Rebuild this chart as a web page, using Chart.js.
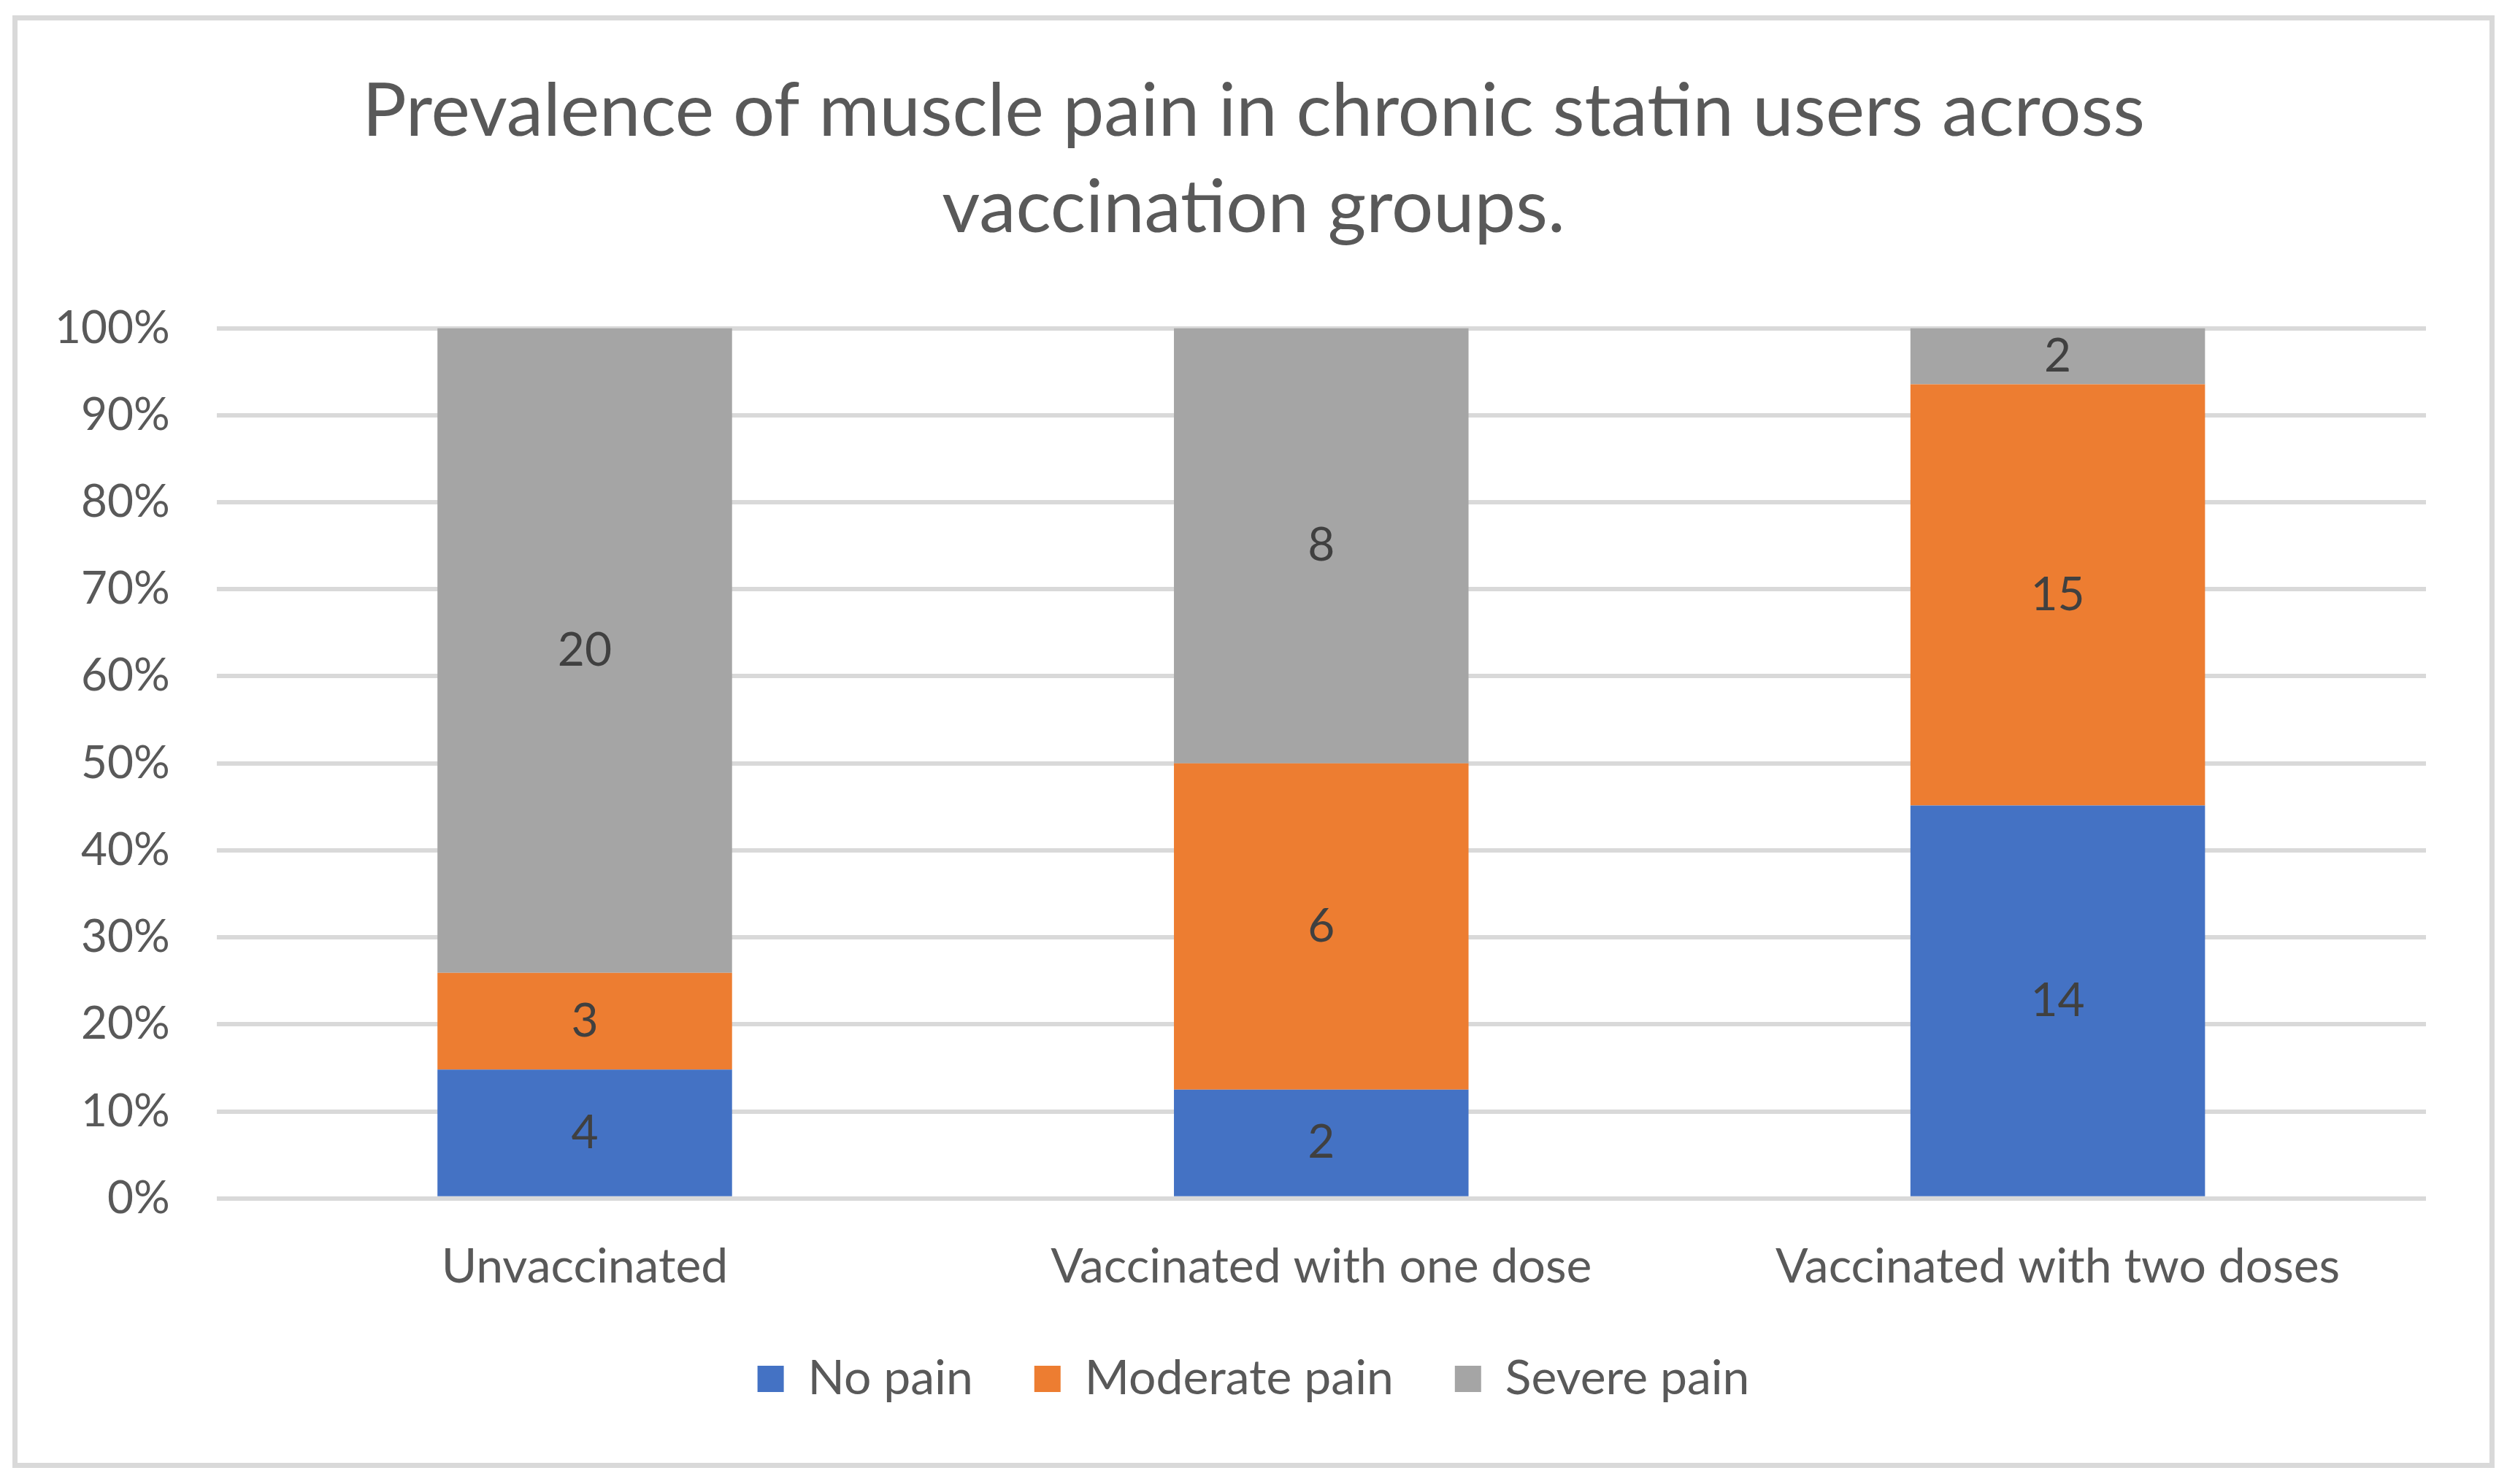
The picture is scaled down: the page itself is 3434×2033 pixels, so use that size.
<!DOCTYPE html>
<html>
<head>
<meta charset="utf-8">
<script src="https://cdn.jsdelivr.net/npm/chart.js@4.4.1/dist/chart.umd.min.js"></script>
<style>
  html, body { margin: 0; padding: 0; background: #fff; }
  #frame {
    position: absolute;
    left: 17px; top: 21px;
    width: 3386px; height: 1976px;
    border: 7px solid #d9d9d9;
    background: #fff;
  }
</style>
</head>
<body>
<div id="frame"><canvas id="pain_Chart"></canvas></div>
<script>
// counts
const groups = ['Unvaccinated', 'Vaccinated with one dose', 'Vaccinated with two doses'];
const noPain = [4, 2, 14];
const moderatePain = [3, 6, 15];
const severePain = [20, 8, 2];
const yTicks = ['0%', '10%', '20%', '30%', '40%', '50%', '60%', '70%', '80%', '90%', '100%'];

const totals = groups.map((g, i) => noPain[i] + moderatePain[i] + severePain[i]);
const pct = arr => arr.map((v, i) => v / totals[i] * 100);

const fontFam = 'Lato, "Open Sans", sans-serif';

// writes the count in the middle of each bar segment
const countLabels = {
    id: 'countLabels',
    afterDatasetsDraw(chart) {
        const c = chart.ctx;
        c.save();
        c.font = '64px ' + fontFam;
        c.fillStyle = '#404040';
        c.textAlign = 'center';
        c.textBaseline = 'middle';
        chart.data.datasets.forEach((ds, di) => {
            chart.getDatasetMeta(di).data.forEach((bar, i) => {
                const y = (bar.y + bar.base) / 2;
                c.fillText(String(ds.counts[i]), bar.x, y);
            });
        });
        c.restore();
    }
};

const ctx = document.getElementById('pain_Chart');

new Chart(ctx, {
    type: 'bar',
    data: {
        labels: groups,
        datasets: [
            { label: 'No pain', data: pct(noPain), counts: noPain, backgroundColor: 'rgb(68, 114, 196)' },
            { label: 'Moderate pain', data: pct(moderatePain), counts: moderatePain, backgroundColor: 'rgb(237, 125, 49)' },
            { label: 'Severe pain', data: pct(severePain), counts: severePain, backgroundColor: 'rgb(165, 165, 165)' }
        ]
    },
    options: {
        responsive: true,
        maintainAspectRatio: false,
        animation: false,
        datasets: {
            bar: { categoryPercentage: 0.4, barPercentage: 1.0 }
        },
        layout: { padding: { left: 0, right: 0, top: 0, bottom: 72 } },
        scales: {
            x: {
                stacked: true,
                grid: { display: false },
                border: { display: false },
                ticks: { color: '#595959', font: { family: fontFam, size: 66 }, padding: 46 },
                afterFit: (s) => { s.height -= 49; }
            },
            y: {
                stacked: true,
                min: 0,
                max: 100,
                border: { display: false },
                grid: { color: '#d9d9d9', lineWidth: 6, drawTicks: false },
                ticks: {
                    stepSize: 10,
                    color: '#595959',
                    font: { family: fontFam, size: 62 },
                    padding: 64,
                    callback: (v) => yTicks[Math.round(v / 10)]
                },
                afterFit: (s) => { s.width -= 13; }
            },
            // empty right margin so the title stays centred on the frame
            yRight: {
                position: 'right',
                display: true,
                grid: { display: false },
                border: { display: false },
                ticks: { display: false },
                afterFit: (s) => { s.width = 87; }
            }
        },
        plugins: {
            title: {
                display: true,
                text: ['Prevalence of muscle pain in chronic statin users across', 'vaccination groups.'],
                color: '#595959',
                font: { family: fontFam, size: 101, weight: 'normal', lineHeight: 1.3 },
                padding: { top: 60, bottom: 99 }
            },
            legend: {
                position: 'bottom',
                labels: {
                    color: '#595959',
                    font: { family: fontFam, size: 66 },
                    boxWidth: 36,
                    boxHeight: 36,
                    padding: 84
                }
            },
            tooltip: { enabled: false }
        }
    },
    plugins: [countLabels]
});
</script>
</body>
</html>
